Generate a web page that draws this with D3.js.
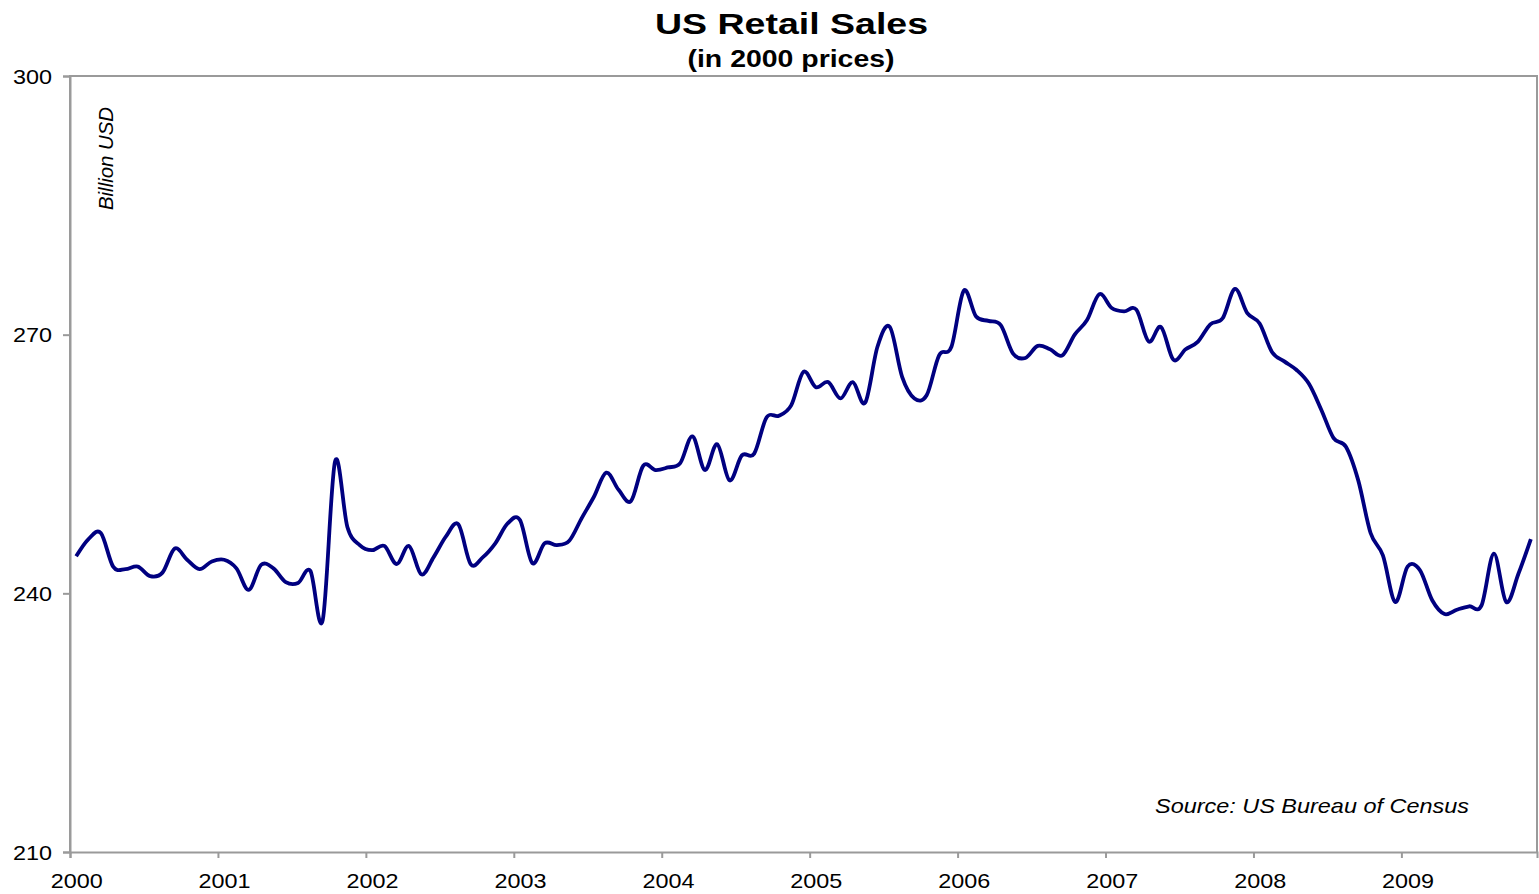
<!DOCTYPE html>
<html><head><meta charset="utf-8">
<script src="https://cdn.jsdelivr.net/npm/d3@7"></script>
<style>body{margin:0;background:#fff;}svg{display:block;font-family:"Liberation Sans",Arial,sans-serif;}</style>
</head><body><svg id="c" width="1539" height="894"></svg>
<script>
const years = ["2000","2001","2002","2003","2004","2005","2006","2007","2008","2009"];
const yTicks = [210, 240, 270, 300];
// Monthly retail sales, Jan 2000 .. Nov 2009 (billion USD, 2000 prices)
const sales = [
 244.3,246.3,247.0,243.1,242.8,243.1,242.0,242.4,245.2,243.9,242.8,243.7,
 243.9,242.9,240.4,243.3,242.9,241.3,241.2,242.6,236.9,255.3,247.7,245.6,
 245.0,245.5,243.4,245.5,242.2,244.2,246.6,248.0,243.4,244.2,245.8,248.1,
 248.5,243.5,245.8,245.6,246.1,248.7,251.2,254.0,252.0,250.7,254.8,254.3,
 254.6,255.1,258.2,254.3,257.3,253.1,256.0,256.2,260.4,260.6,261.8,265.7,
 263.9,264.5,262.6,264.5,262.1,268.6,270.9,265.1,262.6,263.0,267.6,268.6,
 275.1,272.1,271.6,271.1,267.8,267.3,268.7,268.3,267.6,270.0,271.7,274.7,
 273.1,272.7,272.9,269.2,270.9,267.1,268.3,269.2,271.2,271.9,275.3,272.5,
 271.3,268.0,266.9,265.9,264.3,261.3,258.0,257.0,253.1,247.0,244.4,239.0,
 243.1,242.7,239.2,237.6,238.1,238.5,238.6,244.6,239.0,242.3,246.3
];
const title = "US Retail Sales", subtitle = "(in 2000 prices)";
const yLabel = "Billion USD", source = "Source: US Bureau of Census";

const svg = d3.select("#c");
const L = 70, R = 1537, T = 76, B = 852;
const n = sales.length;
const x = d3.scaleLinear().domain([0, n]).range([L, R]);
const y = d3.scaleLinear().domain([210, 300]).range([B, T]);
const axisColor = "#9a9a9a";
const FF = "'Liberation Sans',Arial,sans-serif";

// frame
svg.append("path").attr("d", `M${L},${B}V${T}H${R}V${B}`)
  .attr("fill","none").attr("stroke",axisColor).attr("stroke-width",2);

// y axis
const ya = svg.append("g").attr("transform",`translate(${L},0)`)
  .call(d3.axisLeft(y).tickValues(yTicks).tickSize(7).tickPadding(11));
ya.select(".domain").attr("stroke",axisColor).attr("stroke-width",2);
ya.selectAll(".tick line").attr("stroke",axisColor).attr("stroke-width",2);
ya.selectAll(".tick text").attr("font-size",20).attr("fill","#000").attr("font-family",FF)
  .attr("dy","0.36em").attr("textLength",39).attr("lengthAdjust","spacingAndGlyphs");

// x axis
const xa = svg.append("g").attr("transform",`translate(0,${B})`)
  .call(d3.axisBottom(x).tickValues(years.map((d,i)=>i*12)).tickFormat((d,i)=>years[i]).tickSize(6));
xa.select(".domain").attr("stroke",axisColor).attr("stroke-width",2);
xa.selectAll(".tick line").attr("stroke",axisColor).attr("stroke-width",2);
xa.selectAll(".tick text").attr("font-size",21).attr("fill","#000").attr("font-family",FF)
  .attr("x", x(0.5)-x(0)).attr("y",36).attr("dy",0)
  .attr("textLength",52).attr("lengthAdjust","spacingAndGlyphs");

// line
const line = d3.line().x((d,i)=>x(i+0.5)).y(d=>y(d)).curve(d3.curveCatmullRom.alpha(0));
svg.append("path").datum(sales).attr("d",line).attr("fill","none")
  .attr("stroke","#000080").attr("stroke-width",3.8).attr("stroke-linejoin","round");

// titles
svg.append("text").attr("x",791.5).attr("y",33.5).attr("text-anchor","middle")
  .attr("font-size",29).attr("font-weight","bold")
  .attr("textLength",273).attr("lengthAdjust","spacingAndGlyphs").text(title);
svg.append("text").attr("x",791).attr("y",67).attr("text-anchor","middle")
  .attr("font-size",23).attr("font-weight","bold")
  .attr("textLength",207).attr("lengthAdjust","spacingAndGlyphs").text(subtitle);

// y label
svg.append("text").attr("transform","translate(113,158.5) rotate(-90)")
  .attr("text-anchor","middle").attr("font-size",20).attr("font-style","italic")
  .attr("textLength",103).attr("lengthAdjust","spacingAndGlyphs").text(yLabel);

// source
svg.append("text").attr("x",1469).attr("y",813).attr("text-anchor","end")
  .attr("font-size",21).attr("font-style","italic")
  .attr("textLength",314).attr("lengthAdjust","spacingAndGlyphs").text(source);
</script></body></html>
